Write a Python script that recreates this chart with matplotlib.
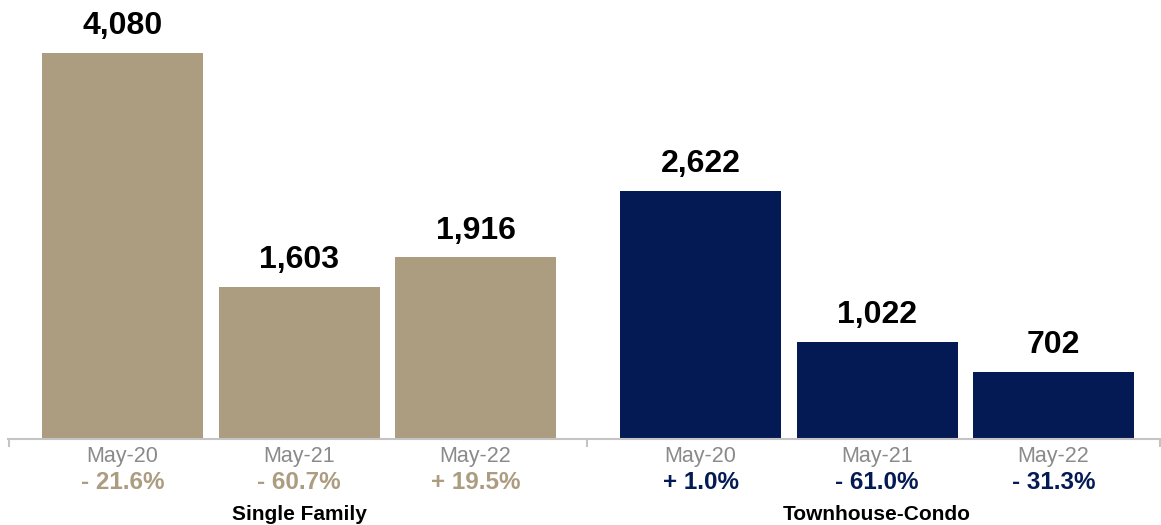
import numpy as np
import matplotlib.pyplot as plt

plt.rcParams['font.family'] = ['Liberation Sans', 'DejaVu Sans']

# ── Data ──────────────────────────────────────
groups = ['Single Family', 'Townhouse-Condo']
months = ['May-20', 'May-21', 'May-22']
single_family = [4080, 1603, 1916]
townhouse_condo = [2622, 1022, 702]
pct_single = [-21.6, -60.7, 19.5]
pct_townhouse = [1.0, -61.0, -31.3]

TAN = '#ac9c80'
NAVY = '#041a54'
GRID = '#c4c4c4'

values = [single_family, townhouse_condo]
pcts = [pct_single, pct_townhouse]
colors = [TAN, NAVY]

# slot layout: 1 unit between bars inside a group, wider gap between groups
group_start = [0.0, 3.275]
bar_w = 0.912

fig = plt.figure(figsize=(11.61, 5.25), dpi=100)
ax = fig.add_axes([8 / 1161, 86.5 / 525, 1153 / 1161, 438.5 / 525])

def fmt_pct(p):
    sign = '+' if p >= 0 else '-'
    return f'{sign} {abs(p):.1f}%'

for g, name in enumerate(groups):
    xs = group_start[g] + np.arange(len(months))
    ax.bar(xs, values[g], width=bar_w, color=colors[g], zorder=2)
    for x, v, m, p in zip(xs, values[g], months, pcts[g]):
        ax.annotate(f'{v:,}', (x, v), xytext=(0, 13.5), textcoords='offset points',
                    ha='center', va='baseline', fontsize=23,
                    fontweight='bold', color='black')
        ax.annotate(m, (x, 0), xycoords=('data', 'axes fraction'),
                    xytext=(0, -13), textcoords='offset points',
                    ha='center', va='center', fontsize=15.5, color='#8a8a8a')
        ax.annotate(fmt_pct(p), (x, 0), xycoords=('data', 'axes fraction'),
                    xytext=(0, -31.5), textcoords='offset points',
                    ha='center', va='center', fontsize=17.5,
                    fontweight='bold', color=colors[g])
    ax.annotate(name, (xs[1], 0), xycoords=('data', 'axes fraction'),
                xytext=(0, -54.5), textcoords='offset points',
                ha='center', va='center', fontsize=15,
                fontweight='bold', color='black')

x_left, x_right = -0.649, 5.884
divider = 2.632
ax.set_xlim(x_left, x_right)
ax.set_ylim(0, 4641)

for side in ['top', 'right', 'left']:
    ax.spines[side].set_visible(False)
ax.spines['bottom'].set_color(GRID)
ax.spines['bottom'].set_linewidth(1.5)
ax.set_yticks([])
ax.set_xticks([x_left + 0.003, divider, x_right - 0.003])
ax.set_xticklabels([])
ax.tick_params(axis='x', length=6, width=1.5, color=GRID, direction='out')

fig.savefig('out.png', dpi=100)
